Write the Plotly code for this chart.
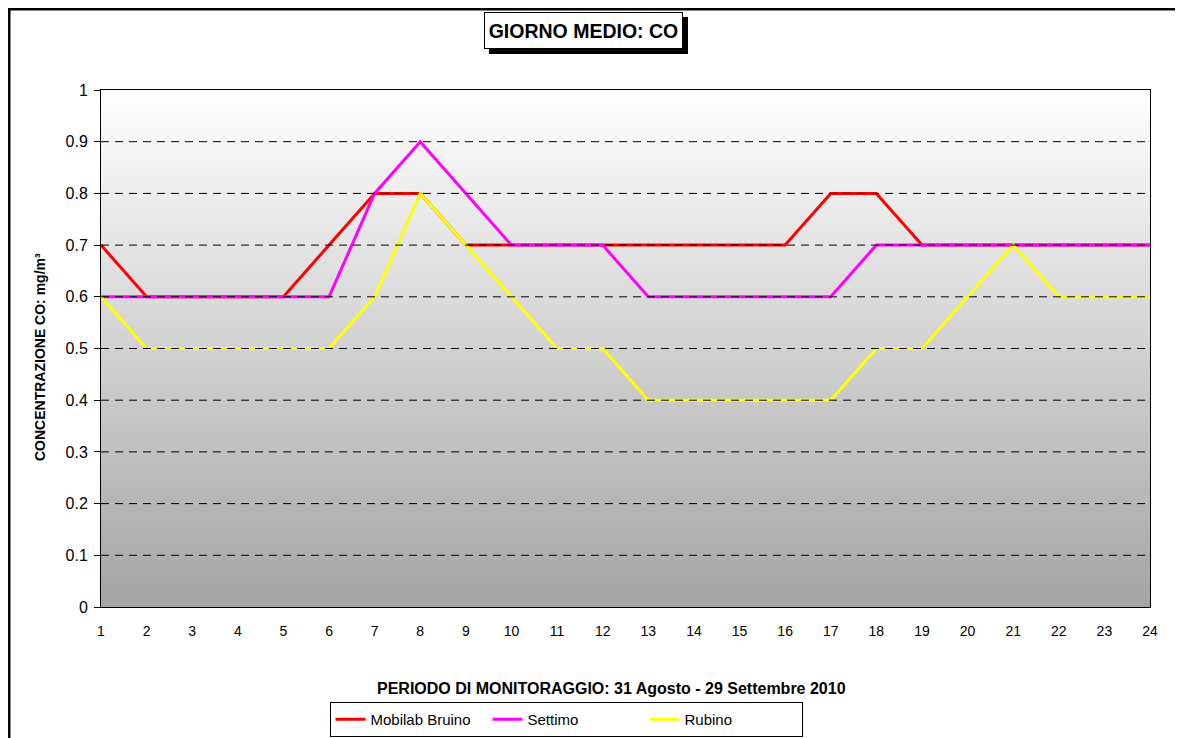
import numpy as np
import plotly.graph_objects as go

hours = list(range(1, 25))
mobilab_bruino = [0.7, 0.6, 0.6, 0.6, 0.6, 0.7, 0.8, 0.8, 0.7, 0.7, 0.7, 0.7,
                  0.7, 0.7, 0.7, 0.7, 0.8, 0.8, 0.7, 0.7, 0.7, 0.7, 0.7, 0.7]
settimo = [0.6, 0.6, 0.6, 0.6, 0.6, 0.6, 0.8, 0.9, 0.8, 0.7, 0.7, 0.7,
           0.6, 0.6, 0.6, 0.6, 0.6, 0.7, 0.7, 0.7, 0.7, 0.7, 0.7, 0.7]
rubino = [0.6, 0.5, 0.5, 0.5, 0.5, 0.5, 0.6, 0.8, 0.7, 0.6, 0.5, 0.5,
          0.4, 0.4, 0.4, 0.4, 0.4, 0.5, 0.5, 0.6, 0.7, 0.6, 0.6, 0.6]
y_ticks = [0, 0.1, 0.2, 0.3, 0.4, 0.5, 0.6, 0.7, 0.8, 0.9, 1]

# page has an 8px body margin -> figure sized/offset accordingly
OFF = 8
W, H = 1183 - OFF, 738 - OFF
L, T = 101 - OFF, 90 - OFF
R = W - (1150 - OFF)
B = H - (607 - OFF)
pw, ph = W - L - R, H - T - B


def px(xp):  # page x -> paper x
    return (xp - OFF - L) / pw


def py(yp):  # page y -> paper y
    return 1 - (yp - OFF - T) / ph


fig = go.Figure()

# gradient background via heatmap
gy = np.linspace(0, 1, 101)
fig.add_trace(go.Heatmap(
    x=[0.5, 24.5], y=gy, z=[[v, v] for v in gy],
    colorscale=[[0, "#a4a4a4"], [1, "#ffffff"]], showscale=False,
    hoverinfo="skip", zsmooth="best", showlegend=False))

series = [("Mobilab Bruino", mobilab_bruino, "#ff0000"),
          ("Settimo", settimo, "#ff00ff"),
          ("Rubino", rubino, "#ffff00")]
for name, vals, col in series:
    fig.add_trace(go.Scatter(x=hours, y=vals, mode="lines", name=name,
                             line=dict(color=col, width=3)))

font = "Liberation Sans, Arial, sans-serif"
fig.update_layout(
    width=W, height=H,
    margin=dict(l=L, r=R, t=T, b=B, autoexpand=False),
    paper_bgcolor="white", plot_bgcolor="white",
    font=dict(family=font, size=14, color="black"),
    showlegend=True,
    legend=dict(orientation="h", x=px(566), xanchor="center", y=py(702), yanchor="top",
                bordercolor="black", borderwidth=1, font=dict(size=15),
                entrywidth=112, itemwidth=30, tracegroupgap=0),
    xaxis=dict(range=[1, 24], tickvals=hours, ticks="", showgrid=False,
               showline=True, linecolor="black", linewidth=1, mirror=True,
               zeroline=False, tickfont=dict(size=14), ticklabelstandoff=11),
    yaxis=dict(range=[0, 1], tickvals=y_ticks, ticktext=[f"{v:g}" for v in y_ticks],
               ticks="outside", ticklen=6, tickcolor="black", showgrid=False,
               showline=True, linecolor="black", linewidth=1, mirror=True,
               zeroline=False, tickfont=dict(size=16), ticklabelstandoff=3),
)

# dashed horizontal gridlines (above the gradient background)
for v in y_ticks[1:-1]:
    fig.add_hline(y=v, line=dict(color="black", width=1, dash="8px,6px"), layer="above")

# axis titles
fig.add_annotation(xref="paper", yref="paper", x=px(611), y=py(688),
                   xanchor="center", yanchor="middle", showarrow=False,
                   text="<b>PERIODO DI MONITORAGGIO: 31 Agosto - 29 Settembre 2010</b>",
                   font=dict(size=16, family=font, color="black"))
fig.add_annotation(xref="paper", yref="paper", x=px(40), y=py(357),
                   xanchor="center", yanchor="middle", showarrow=False, textangle=-90,
                   text="<b>CONCENTRAZIONE CO: mg/m³</b>",
                   font=dict(size=14, family=font, color="black"))

# Title box with drop shadow
fig.add_shape(type="rect", xref="paper", yref="paper",
              x0=px(489), x1=px(688), y0=py(17), y1=py(54),
              fillcolor="black", line=dict(width=0), layer="above")
fig.add_annotation(xref="paper", yref="paper", x=px(583.5), y=py(30.5),
                   xanchor="center", yanchor="middle",
                   text="<b>GIORNO MEDIO: CO</b>", showarrow=False,
                   font=dict(size=19.5, family=font, color="black"),
                   width=193, height=31,
                   bgcolor="white", bordercolor="black", borderwidth=1, borderpad=2)

# outer chart border (top and left)
fig.add_shape(type="line", xref="paper", yref="paper",
              x0=px(OFF), x1=px(1200), y0=py(OFF + 1), y1=py(OFF + 1),
              line=dict(color="black", width=3))
fig.add_shape(type="line", xref="paper", yref="paper",
              x0=px(OFF + 1), x1=px(OFF + 1), y0=py(OFF), y1=py(760),
              line=dict(color="black", width=3))

fig.write_html("out.html")
